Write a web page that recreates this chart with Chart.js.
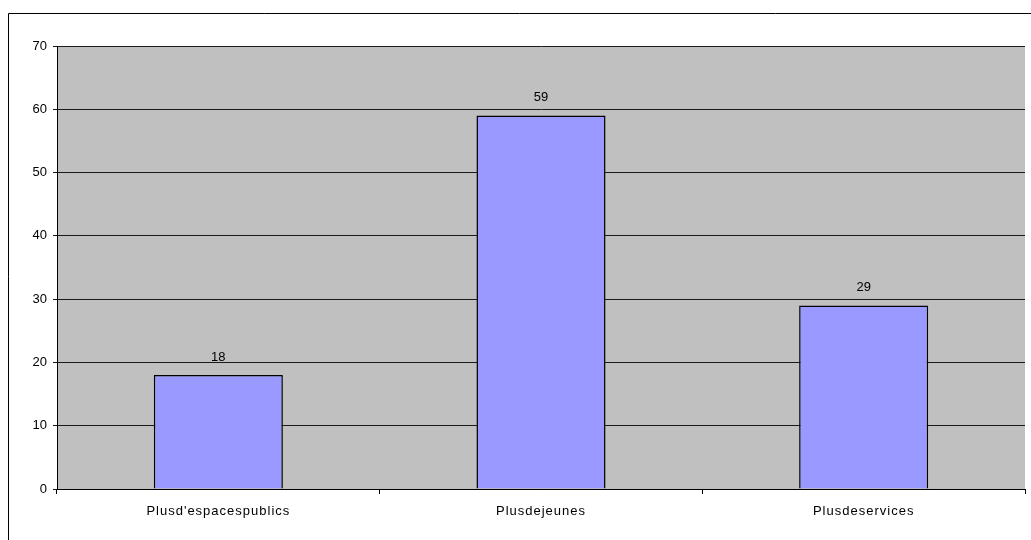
<!DOCTYPE html>
<html>
<head>
<meta charset="utf-8">
<script src="https://cdn.jsdelivr.net/npm/chart.js@4"></script>
<style>
  html, body { margin: 0; padding: 0; background: #fff; }
  #wrap { width: 1031px; height: 540px; position: relative; }
</style>
</head>
<body>
<div id="wrap"><canvas id="myChart"></canvas></div>
<script>
const categories = ["Plusd'espacespublics", "Plusdejeunes", "Plusdeservices"];
const valeurs = [18, 59, 29];
const yMin = 0;
const yMax = 70;
const yStep = 10;

const police = "'Liberation Sans', Arial, sans-serif";

const fondGris = {
  id: "fondGris",
  beforeDraw(chart) {
    const { ctx, chartArea: a } = chart;
    ctx.save();
    ctx.fillStyle = "#fff";
    ctx.fillRect(0, 0, chart.width, chart.height);
    // cadre exterieur
    ctx.strokeStyle = "#000";
    ctx.lineWidth = 1;
    ctx.beginPath();
    ctx.moveTo(8.5, chart.height);
    ctx.lineTo(8.5, 13.5);
    ctx.lineTo(chart.width, 13.5);
    ctx.stroke();
    // zone de tracé
    ctx.fillStyle = "#C0C0C0";
    ctx.fillRect(a.left, a.top, a.right - a.left, a.bottom - a.top);
    ctx.restore();
  },
};

const etiquettes = {
  id: "etiquettes",
  afterDatasetsDraw(chart) {
    const { ctx } = chart;
    const meta = chart.getDatasetMeta(0);
    ctx.save();
    ctx.fillStyle = "#000";
    ctx.font = "13px " + police;
    ctx.textAlign = "center";
    ctx.textBaseline = "middle";
    meta.data.forEach((bar, i) => {
      ctx.fillText(valeurs[i], bar.x, bar.y - 18);
    });
    // noms des categories (espacement des lettres comme Excel)
    const x = chart.scales.x;
    ctx.letterSpacing = "1px";
    categories.forEach((nom, i) => {
      ctx.fillText(nom, x.getPixelForValue(i), x.top + 22);
    });
    ctx.restore();
  },
};

new Chart(document.getElementById("myChart"), {
  type: "bar",
  data: {
    labels: categories,
    datasets: [
      {
        data: valeurs,
        backgroundColor: "#9999FF",
        borderColor: "#000",
        borderWidth: 1.5,
        barPercentage: 0.4,
        categoryPercentage: 1,
      },
    ],
  },
  options: {
    responsive: true,
    maintainAspectRatio: false,
    animation: false,
    layout: { padding: { left: 0, top: 46, right: 6, bottom: 0 } },
    plugins: {
      legend: { display: false },
      tooltip: { enabled: false },
    },
    scales: {
      x: {
        afterFit(scale) { scale.height = 51; },
        grid: {
          drawOnChartArea: false,
          drawTicks: true,
          tickLength: 5,
          color: "#000",
        },
        border: { display: true, color: "#000", width: 1 },
        ticks: { display: false },
      },
      y: {
        min: yMin,
        max: yMax,
        afterFit(scale) { scale.width = 57; },
        ticks: {
          stepSize: yStep,
          color: "#000",
          padding: 6,
          font: { family: police, size: 13 },
        },
        grid: {
          color: "#1a1a1a",
          tickLength: 4,
        },
        border: { display: true, color: "#000", width: 1 },
      },
    },
  },
  plugins: [fondGris, etiquettes],
});
</script>
</body>
</html>
